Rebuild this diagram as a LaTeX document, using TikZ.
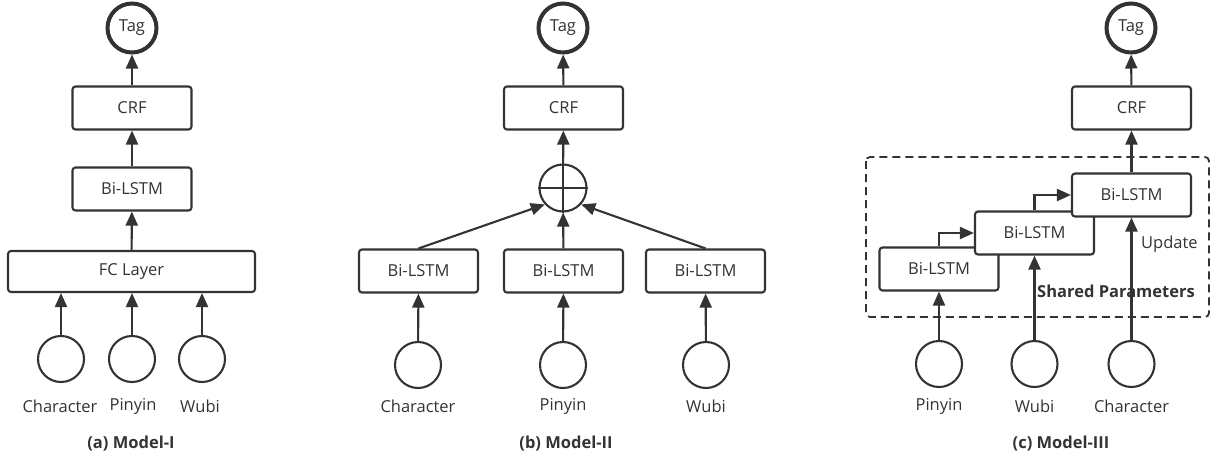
\documentclass[tikz,border=0pt]{standalone}
\usepackage{fontspec}
\setmainfont{Open Sans}
\usetikzlibrary{arrows.meta}
\definecolor{ink}{HTML}{333333}
\begin{document}
\begin{tikzpicture}[x=1pt,y=-1pt,
  every node/.style={font=\fontsize{16.5}{19}\selectfont, text=ink},
  box/.style={draw=ink, line width=2.1pt, rounded corners=3pt, fill=white,
              minimum width=119pt, minimum height=43pt, inner sep=0pt},
  tagc/.style={circle, draw=ink, line width=4pt, minimum size=49pt, inner sep=0pt},
  inc/.style={circle, draw=ink, line width=2.1pt, minimum size=46pt, inner sep=0pt},
  plusc/.style={circle, draw=ink, line width=2.1pt, minimum size=47pt, inner sep=0pt},
  lab/.style={inner sep=0pt},
  captxt/.style={font=\fontsize{16.5}{19}\selectfont\bfseries, inner sep=0pt},
  arr/.style={draw=ink, line width=2.1pt, -{Triangle[length=14pt,width=12pt]}},
  shared/.style={draw=ink, line width=1.8pt, dashed, dash pattern=on 8pt off 5pt, rounded corners=4pt}
]
\useasboundingbox (0,0) rectangle (1215,461);

% ---------- Model I ----------
\node[tagc] (aT) at (132,28) {Tag};
\node[box] (aC) at (132,108) {CRF};
\node[box] (aB) at (132,189) {Bi-LSTM};
\node[box, minimum width=247pt, minimum height=41pt] (aF) at (131.5,271.5) {FC Layer};
\node[inc] (a1) at (61,359) {};
\node[inc] (a2) at (132,359) {};
\node[inc] (a3) at (202,359) {};
\node[lab] (a1l) at (60,406) {Character};
\node[lab] (a2l) at (133,406) {Pinyin};
\node[lab] (a3l) at (200,406) {Wubi};
\node[captxt] (acap) at (131,444) {(a) Model-I};
\draw[arr] (aC) -- (aT);
\draw[arr] (aB) -- (aC);
\draw[arr] (aF) -- (aB);
\draw[arr] (a1) -- (a1 |- aF.south);
\draw[arr] (a2) -- (a2 |- aF.south);
\draw[arr] (a3) -- (a3 |- aF.south);

% ---------- Model II ----------
\node[tagc] (bT) at (563,28) {Tag};
\node[box] (bC) at (563.5,108) {CRF};
\node[plusc] (bP) at (563,188) {};
\draw[ink, line width=2.1pt] (bP.north) -- (bP.south) (bP.west) -- (bP.east);
\node[box] (b1) at (418.5,271) {Bi-LSTM};
\node[box] (b2) at (563.5,271) {Bi-LSTM};
\node[box] (b3) at (705.5,271) {Bi-LSTM};
\node[inc] (b1c) at (418,365) {};
\node[inc] (b2c) at (563,365) {};
\node[inc] (b3c) at (706,365) {};
\node[lab] (b1l) at (418,406) {Character};
\node[lab] (b2l) at (563,406) {Pinyin};
\node[lab] (b3l) at (706,406) {Wubi};
\node[captxt] (bcap) at (566,444) {(b) Model-II};
\draw[arr] (bC) -- (bT);
\draw[arr] (bP) -- (bC);
\draw[arr] (b1.north) -- (bP.222);
\draw[arr] (b2) -- (bP);
\draw[arr] (b3.north) -- (bP.318);
\draw[arr] (b1c) -- (b1);
\draw[arr] (b2c) -- (b2);
\draw[arr] (b3c) -- (b3);

% ---------- Model III ----------
\node[tagc] (cT) at (1131,28) {Tag};
\node[box] (cC) at (1131.5,108) {CRF};
\draw[shared] (866,157) rectangle (1209,317);
\node[box] (c1) at (939,269) {Bi-LSTM};
\node[box] (c2) at (1034.5,233) {Bi-LSTM};
\node[box] (c3) at (1131.5,195) {Bi-LSTM};
\node[inc] (c1c) at (939,364) {};
\node[inc] (c2c) at (1034.5,364) {};
\node[inc] (c3c) at (1131.5,364) {};
\node[lab] (c1l) at (939,406) {Pinyin};
\node[lab] (c2l) at (1034.5,406) {Wubi};
\node[lab] (c3l) at (1131.5,406) {Character};
\node[lab, anchor=west] (upd) at (1141,244) {Update};
\node[lab, font=\fontsize{16.5}{19}\selectfont\bfseries] (sp) at (1116,291) {Shared Parameters};
\node[captxt] (ccap) at (1061,444) {(c) Model-III};
\draw[arr] (cC) -- (cT);
\draw[arr] (c3) -- (cC);
\draw[arr] (c1.north) |- (c2.west);
\draw[arr] (c2.north) |- (c3.west);
\draw[arr] (c1c) -- (c1);
\draw[arr] (c2c) -- (c2);
\draw[arr] (c3c) -- (c3);
\end{tikzpicture}
\end{document}
